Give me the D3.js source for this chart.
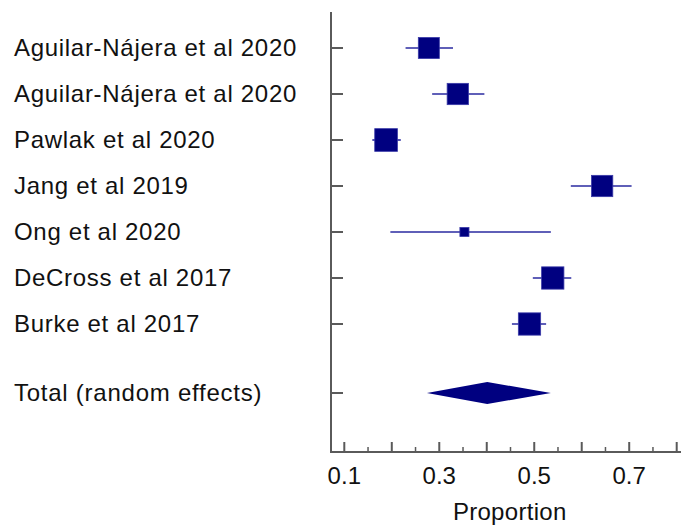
<!DOCTYPE html>
<html><head><meta charset="utf-8">
<script src="https://cdn.jsdelivr.net/npm/d3@7"></script>
<style>body{margin:0;background:#fff}svg{display:block}</style>
</head><body>
<script>
const studies = ["Aguilar-Nájera et al 2020","Aguilar-Nájera et al 2020","Pawlak et al 2020","Jang et al 2019","Ong et al 2020","DeCross et al 2017","Burke et al 2017"];
const proportion = [0.278,0.339,0.188,0.643,0.353,0.539,0.490];
const ciLow  = [0.229,0.285,0.159,0.577,0.197,0.497,0.453];
const ciHigh = [0.329,0.395,0.219,0.705,0.535,0.578,0.525];
const weights = [15.0,15.4,17.5,15.4,2.8,16.9,16.9];
const totalLabel = "Total (random effects)";
const total = {est:0.401, low:0.274, high:0.535};
const xTickLabels = [0.1,0.3,0.5,0.7];
const xMajor = [0.1,0.2,0.3,0.4,0.5,0.6,0.7,0.8];
const xMinor = [0.15,0.25,0.35,0.45,0.55,0.65,0.75];
const xTitle = "Proportion";

const W=681,H=527;
const svg=d3.select("body").append("svg").attr("width",W).attr("height",H);
const x=d3.scaleLinear().domain([0.1,0.8]).range([344.3,676.7]);
const y=d3.scaleLinear().domain([0,1]).range([48,94]);
const size=d3.scaleSqrt().domain([0,17.5]).range([0,22.7]);
const axX=331, yTop=12, yBottom=452;
const navy="#000080", axisCol="#5a5a5a";
const font="Liberation Sans, Arial, sans-serif";

// y axis
svg.append("line").attr("x1",axX).attr("x2",axX).attr("y1",yTop).attr("y2",yBottom+1)
  .attr("stroke",axisCol).attr("stroke-width",2);
// x axis
svg.append("line").attr("x1",axX-1).attr("x2",W).attr("y1",yBottom).attr("y2",yBottom)
  .attr("stroke",axisCol).attr("stroke-width",2);

const rows=studies.map((s,i)=>({s,i,p:proportion[i],lo:ciLow[i],hi:ciHigh[i],w:weights[i]}));
const totalPos=7.5;
const yIdx=rows.map(d=>d.i).concat([totalPos]);
// y ticks
svg.selectAll("line.yt").data(yIdx).enter().append("line")
  .attr("x1",axX).attr("x2",axX+12).attr("y1",d=>y(d)).attr("y2",d=>y(d))
  .attr("stroke",axisCol).attr("stroke-width",2);
// x ticks
svg.selectAll("line.xM").data(xMajor).enter().append("line")
  .attr("x1",d=>x(d)).attr("x2",d=>x(d)).attr("y1",yBottom).attr("y2",yBottom-10)
  .attr("stroke",axisCol).attr("stroke-width",2);
svg.selectAll("line.xm").data(xMinor).enter().append("line")
  .attr("x1",d=>x(d)).attr("x2",d=>x(d)).attr("y1",yBottom).attr("y2",yBottom-5)
  .attr("stroke",axisCol).attr("stroke-width",1.5);
svg.selectAll("text.xl").data(xTickLabels).enter().append("text")
  .attr("x",d=>x(d)).attr("y",484).attr("text-anchor","middle")
  .attr("font-family",font).attr("font-size",24).attr("fill","#111")
  .text(d=>d.toFixed(1));
svg.append("text").attr("x",x(0.4)+23).attr("y",520).attr("text-anchor","middle")
  .attr("font-family",font).attr("font-size",24).attr("letter-spacing",0.3).attr("fill","#111").text(xTitle);

// labels
svg.selectAll("text.lab").data(rows).enter().append("text")
  .attr("x",14).attr("y",d=>y(d.i)+8)
  .attr("font-family",font).attr("font-size",24).attr("letter-spacing",0.7).attr("fill","#111").text(d=>d.s);
svg.append("text").attr("x",14).attr("y",y(totalPos)+7.5)
  .attr("font-family",font).attr("font-size",24).attr("letter-spacing",0.75).attr("fill","#111").text(totalLabel);

// CI lines
svg.selectAll("line.ci").data(rows).enter().append("line")
  .attr("x1",d=>x(d.lo)).attr("x2",d=>x(d.hi)).attr("y1",d=>y(d.i)).attr("y2",d=>y(d.i))
  .attr("stroke","#2a2aa0").attr("stroke-width",1.6);
// squares
svg.selectAll("rect.sq").data(rows).enter().append("rect")
  .attr("x",d=>x(d.p)-size(d.w)/2).attr("y",d=>y(d.i)-size(d.w)/2)
  .attr("width",d=>size(d.w)).attr("height",d=>size(d.w))
  .attr("fill",navy).attr("stroke","#3a3aa8").attr("stroke-width",0.8);
// diamond
const ty=y(totalPos);
svg.append("path").attr("d",`M${x(total.low)},${ty} L${x(total.est)},${ty-11} L${x(total.high)},${ty} L${x(total.est)},${ty+11} Z`)
  .attr("fill",navy);
</script>
</body></html>
